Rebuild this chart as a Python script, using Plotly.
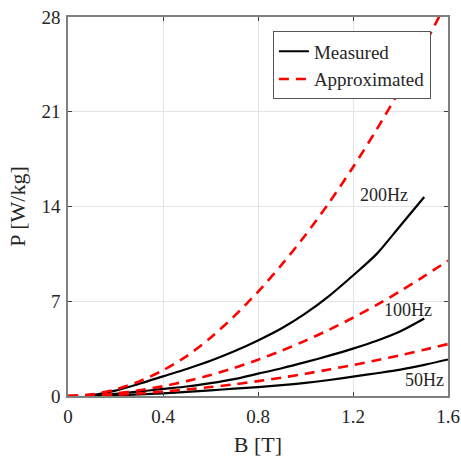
import plotly.graph_objects as go

# B values [T]
b_full = [0.0, 0.1, 0.2, 0.3, 0.4, 0.5, 0.6, 0.7, 0.8, 0.9, 1.0, 1.1, 1.2, 1.3, 1.4, 1.5, 1.6]
b_meas_15 = [0.1, 0.2, 0.3, 0.4, 0.5, 0.6, 0.7, 0.8, 0.9, 1.0, 1.1, 1.2, 1.3, 1.4, 1.5]
b_meas_16 = [0.1, 0.2, 0.3, 0.4, 0.5, 0.6, 0.7, 0.8, 0.9, 1.0, 1.1, 1.2, 1.3, 1.4, 1.5, 1.6]

# Measured losses [W/kg]
meas_200 = [0.05, 0.4, 0.9, 1.45, 2.0, 2.6, 3.3, 4.1, 5.0, 6.1, 7.4, 8.9, 10.5, 12.6, 14.7]
meas_100 = [0.02, 0.15, 0.33, 0.52, 0.7, 0.95, 1.25, 1.65, 2.05, 2.5, 2.98, 3.5, 4.08, 4.78, 5.72]
meas_50 = [0.01, 0.06, 0.12, 0.2, 0.3, 0.42, 0.54, 0.66, 0.8, 0.97, 1.18, 1.43, 1.68, 1.95, 2.3, 2.7]

# Approximated losses [W/kg]
appr_200 = [0.0, 0.12, 0.48, 1.08, 1.9, 2.95, 4.3, 5.9, 7.7, 9.7, 11.9, 14.3, 16.9, 19.7, 22.7, 25.9, 29.3]
appr_100 = [0.0, 0.05, 0.19, 0.42, 0.72, 1.1, 1.55, 2.08, 2.68, 3.35, 4.09, 4.9, 5.78, 6.73, 7.76, 8.85, 10.0]
appr_50 = [0.0, 0.03, 0.09, 0.19, 0.33, 0.48, 0.66, 0.86, 1.1, 1.36, 1.65, 1.96, 2.29, 2.64, 3.02, 3.42, 3.84]

labels = ["200Hz", "100Hz", "50Hz"]
label_b = [1.33, 1.43, 1.503]
label_p = [14.86, 6.32, 1.18]

x_ticks = [0, 0.4, 0.8, 1.2, 1.6]
x_ticktext = ["0", "0.4", "0.8", "1.2", "1.6"]
y_ticks = [0, 7, 14, 21, 28]

FONT = "Liberation Serif, Times New Roman, serif"
TXT = "#262626"

fig = go.Figure()

red_line = dict(color="#ff0000", width=2.6, dash="10px,7px")
black_line = dict(color="#000000", width=2.2)

for i, (bx, yy) in enumerate([(b_meas_15, meas_200), (b_meas_15, meas_100), (b_meas_16, meas_50)]):
    fig.add_trace(go.Scatter(x=bx, y=yy, mode="lines", line=dict(black_line, shape="spline", smoothing=0.8),
                             name="Measured", showlegend=(i == 0), legendrank=1))

for i, yy in enumerate([appr_200, appr_100, appr_50]):
    fig.add_trace(go.Scatter(x=b_full, y=yy, mode="lines", line=dict(red_line, shape="spline", smoothing=0.8),
                             name="Approximated", showlegend=(i == 0), legendrank=2))

for t, bx, py in zip(labels, label_b, label_p):
    fig.add_annotation(x=bx, y=py, text=t, showarrow=False,
                       font=dict(family=FONT, size=18, color=TXT), xanchor="center", yanchor="middle")

axis_common = dict(
    showline=True, linecolor="#808080", linewidth=1.5, mirror="ticks",
    ticks="inside", ticklen=4, tickcolor="#404040", tickwidth=1,
    showgrid=True, gridcolor="#e3e3e3", gridwidth=1, zeroline=False,
    tickfont=dict(family=FONT, size=19, color=TXT), automargin=False,
    ticklabeloverflow="allow",
)

fig.update_xaxes(range=[0, 1.6], tickvals=x_ticks, ticktext=x_ticktext, ticklabelstandoff=2,
                 title=dict(text="B [T]", font=dict(family=FONT, size=22, color=TXT), standoff=14),
                 **axis_common)
fig.update_yaxes(range=[0, 28], tickvals=y_ticks, ticklabelstandoff=2,
                 title=dict(text="P [W/kg]", font=dict(family=FONT, size=22, color=TXT), standoff=10),
                 **axis_common)

fig.update_layout(
    width=461, height=457,
    margin=dict(l=68, r=13, t=17, b=61),
    paper_bgcolor="white", plot_bgcolor="white",
    showlegend=True,
    legend=dict(x=0.955, y=0.962, xanchor="right", yanchor="top",
                bgcolor="white", bordercolor="#555555", borderwidth=1,
                font=dict(family=FONT, size=19, color=TXT),
                tracegroupgap=0, itemwidth=30),
)

# remove the default 8px page margin so the figure fills the window exactly
fig.write_html("out.html", config={"displayModeBar": False},
               post_script="document.body.style.margin='0';document.body.style.overflow='hidden';")
